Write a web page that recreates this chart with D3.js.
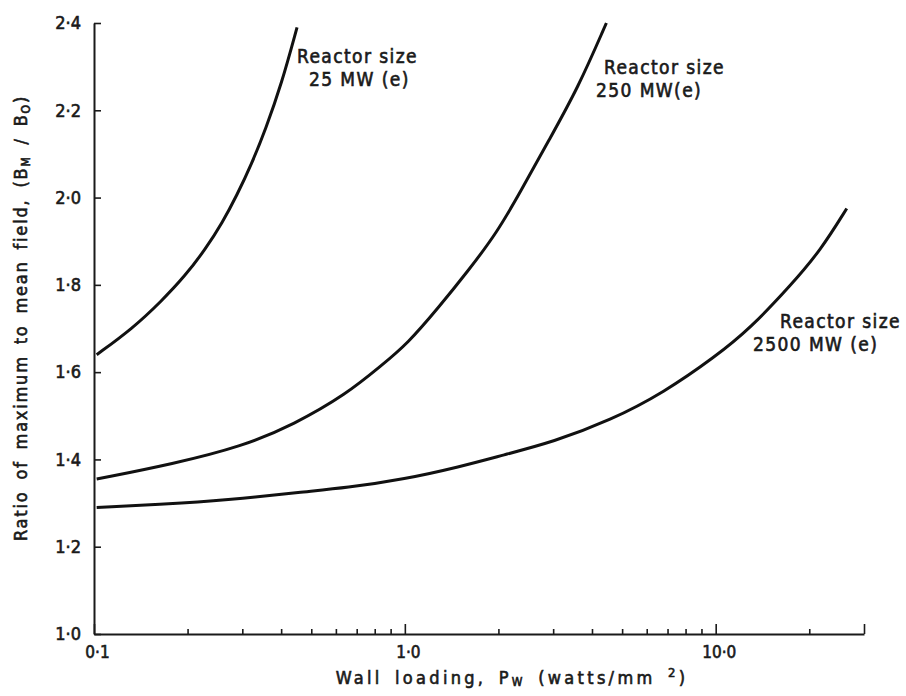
<!DOCTYPE html>
<html>
<head>
<meta charset="utf-8">
<script src="https://cdn.jsdelivr.net/npm/d3@7"></script>
<style>
  body { margin: 0; background: #fff; }
  text { font-family: "DejaVu Sans Condensed", "DejaVu Sans", sans-serif; fill: #1a1a1a; stroke: #1a1a1a; stroke-width: 0.6; }
</style>
</head>
<body>
<div id="chart"></div>
<script>
// Curves: wall loading (watts/mm2) and ratio Bm/B0
var wall25 = [0.102, 0.133, 0.165, 0.196, 0.228, 0.259, 0.288, 0.321, 0.357, 0.401, 0.45];
var ratio25 = [1.64, 1.70, 1.763, 1.82, 1.881, 1.943, 2.005, 2.076, 2.158, 2.26, 2.39];

var wall250 = [0.102, 0.18, 0.30, 0.44, 0.65, 0.84, 1.02, 1.29, 1.59, 1.98, 2.34, 2.9, 3.6, 4.45];
var ratio250 = [1.355, 1.39, 1.43, 1.48, 1.55, 1.615, 1.665, 1.75, 1.83, 1.92, 2.01, 2.13, 2.25, 2.40];

var wall2500 = [0.102, 0.2, 0.3, 0.46, 0.65, 1.0, 1.5, 2.07, 3.0, 4.6, 6.8, 10, 12.9, 17.5, 21.8, 26.4];
var ratio2500 = [1.29, 1.30, 1.31, 1.325, 1.335, 1.355, 1.383, 1.41, 1.44, 1.49, 1.553, 1.636, 1.70, 1.80, 1.88, 1.975];

var curveNames = ["Reactor size|25 MW (e)", "Reactor size|250 MW(e)", "Reactor size|2500 MW (e)"];

// Ticks
var xMajorTicks = [0.1, 1, 10];
var xMajorLabels = ["0·1", "1·0", "10·0"];
var xMinorTicks = [0.2, 0.3, 0.4, 0.5, 0.6, 0.7, 0.8, 0.9, 2, 3, 4, 5, 6, 7, 8, 9, 20];
var xEndTick = [30];
var yTicks = [1.0, 1.2, 1.4, 1.6, 1.8, 2.0, 2.2, 2.4];

var width = 906;
var height = 696;

var svg = d3.select("#chart").append("svg")
    .attr("width", width)
    .attr("height", height);

var x = d3.scaleLog().domain([0.1, 30]).range([94, 864]);
var y = d3.scaleLinear().domain([1.0, 2.4]).range([634, 23]);

// x axis: minor ticks, major ticks with labels, end tick
svg.append("g")
    .attr("transform", "translate(0," + y(1.0) + ")")
    .call(d3.axisBottom(x).tickValues(xMinorTicks).tickSize(-5).tickSizeOuter(0).tickFormat(""))
    .call(function(g) {
        g.select(".domain").attr("stroke-width", 2).attr("stroke", "#1a1a1a");
        g.selectAll("line").attr("stroke-width", 1.6).attr("stroke", "#1a1a1a");
    });

svg.append("g")
    .attr("transform", "translate(0," + y(1.0) + ")")
    .call(d3.axisBottom(x).tickValues(xMajorTicks.concat(xEndTick)).tickSize(-10).tickSizeOuter(0)
        .tickFormat(function(d) { var i = xMajorTicks.indexOf(d); return i < 0 ? "" : xMajorLabels[i]; }))
    .call(function(g) {
        g.select(".domain").remove();
        g.selectAll("line").attr("stroke-width", 1.6).attr("stroke", "#1a1a1a");
        g.selectAll("text").attr("y", 12).attr("dx", 3).attr("font-size", 17);
    });

// y axis, ticks pointing inward
svg.append("g")
    .attr("transform", "translate(" + x(0.1) + ",0)")
    .call(d3.axisLeft(y).tickValues(yTicks).tickSize(-7).tickSizeOuter(0)
        .tickFormat(function(d) { return d3.format(".1f")(d).replace(".", "·"); }))
    .call(function(g) {
        g.select(".domain").attr("stroke-width", 2).attr("stroke", "#1a1a1a");
        g.selectAll("line").attr("stroke-width", 1.6).attr("stroke", "#1a1a1a");
        g.selectAll("text").attr("x", -13).attr("font-size", 18);
    });

// curves
var line = d3.line()
    .x(function(d) { return x(d[0]); })
    .y(function(d) { return y(d[1]); })
    .curve(d3.curveBasis);

var series = [d3.zip(wall25, ratio25), d3.zip(wall250, ratio250), d3.zip(wall2500, ratio2500)];

svg.selectAll(".curve")
    .data(series)
    .enter().append("path")
    .attr("class", "curve")
    .attr("d", line)
    .attr("fill", "none")
    .attr("stroke", "#111")
    .attr("stroke-width", 3);

// curve labels, placed next to the curve ends
var labelPos = [[297, 63, 309], [604, 74, 596], [780, 328, 753]];
curveNames.forEach(function(name, i) {
    var parts = name.split("|");
    var t = svg.append("text")
        .attr("font-size", 19)
        .attr("letter-spacing", 1.4);
    t.append("tspan").attr("x", labelPos[i][0]).attr("y", labelPos[i][1]).text(parts[0]);
    t.append("tspan").attr("x", labelPos[i][2]).attr("y", labelPos[i][1] + 23).text(parts[1]);
});

// axis titles
var xt = svg.append("text")
    .attr("x", 512)
    .attr("y", 684)
    .attr("text-anchor", "middle")
    .attr("font-size", 18)
    .attr("letter-spacing", 3.3)
    .attr("word-spacing", 4);
xt.append("tspan").text("Wall loading, P");
xt.append("tspan").attr("font-size", 12).attr("dy", 2).text("W");
xt.append("tspan").attr("dy", -2).text(" (watts/mm ");
xt.append("tspan").attr("font-size", 13).attr("dy", -7).text("2");
xt.append("tspan").attr("dy", 7).text(")");

var yt = svg.append("text")
    .attr("transform", "translate(27,318) rotate(-90)")
    .attr("text-anchor", "middle")
    .attr("font-size", 18)
    .attr("letter-spacing", 1.8)
    .attr("word-spacing", 4);
yt.append("tspan").text("Ratio of maximum to mean field, (B");
yt.append("tspan").attr("font-size", 12).attr("dy", 3).text("M");
yt.append("tspan").attr("dy", -3).text(" / B");
yt.append("tspan").attr("font-size", 12).attr("dy", 3).text("O");
yt.append("tspan").attr("dy", -3).text(")");
</script>
</body>
</html>
